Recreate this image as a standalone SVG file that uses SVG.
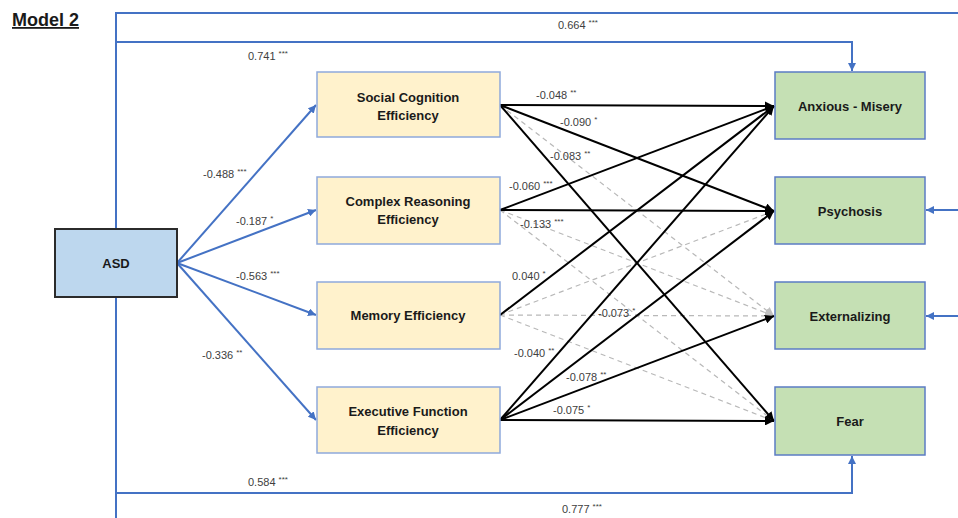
<svg xmlns="http://www.w3.org/2000/svg" width="958" height="518" viewBox="0 0 958 518">
<style>
.lbl{font-family:"Liberation Sans",Arial,sans-serif;font-size:13px;font-weight:bold;fill:#1a1a1a;text-anchor:middle}
.num{font-family:"Liberation Sans",Arial,sans-serif;font-size:11px;fill:#404040}
.st{font-size:8px}
.blue{stroke:#4472c4;stroke-width:2;fill:none}
.blk{stroke:#000;stroke-width:2;fill:none}
.dash{stroke:#b8b8b8;stroke-width:1.2;fill:none;stroke-dasharray:5 4}
.med{fill:#fff2cc;stroke:#8ea9db;stroke-width:1.5}
.out{fill:#c5e0b4;stroke:#5b7cc4;stroke-width:1.5}
</style>
<defs>
<marker id="ab" markerUnits="userSpaceOnUse" markerWidth="9" markerHeight="8" refX="8" refY="4" orient="auto"><path d="M0,0 L8,4 L0,8 z" fill="#4472c4"/></marker>
<marker id="ak" markerUnits="userSpaceOnUse" markerWidth="10" markerHeight="9" refX="9" refY="4.5" orient="auto"><path d="M0,0 L9,4.5 L0,9 z" fill="#000"/></marker>
<marker id="ag" markerUnits="userSpaceOnUse" markerWidth="10" markerHeight="9" refX="9" refY="4.5" orient="auto"><path d="M0,0 L9,4.5 L0,9 z" fill="#c0c0c0"/></marker>
</defs>
<rect width="958" height="518" fill="#fff"/>
<text x="12" y="26" font-family="Liberation Sans,Arial,sans-serif" font-size="18" font-weight="bold" fill="#1a1a1a" text-decoration="underline">Model 2</text>

<g id="connectors">
<path class="blue" d="M958,13 L116,13 L116,518"/>
<path class="blue" d="M116,42 L852,42 L852,71" marker-end="url(#ab)"/>
<path class="blue" d="M116,493 L852,493 L852,456" marker-end="url(#ab)"/>
<path class="blue" d="M958,210 L926,210" marker-end="url(#ab)"/>
<path class="blue" d="M958,316 L926,316" marker-end="url(#ab)"/>
<path class="blue" d="M177,263 L316,105" marker-end="url(#ab)"/>
<path class="blue" d="M177,263 L316,210" marker-end="url(#ab)"/>
<path class="blue" d="M177,263 L316,315" marker-end="url(#ab)"/>
<path class="blue" d="M177,263 L316,420" marker-end="url(#ab)"/>
<path class="dash" d="M500,105 L774,316" marker-end="url(#ag)"/>
<path class="dash" d="M500,210 L774,316" marker-end="url(#ag)"/>
<path class="dash" d="M500,210 L774,421" marker-end="url(#ag)"/>
<path class="dash" d="M500,315 L774,211" marker-end="url(#ag)"/>
<path class="dash" d="M500,315 L774,316" marker-end="url(#ag)"/>
<path class="dash" d="M500,315 L774,421" marker-end="url(#ag)"/>
<path class="blk" d="M500,105 L774,106" marker-end="url(#ak)"/>
<path class="blk" d="M500,105 L774,211" marker-end="url(#ak)"/>
<path class="blk" d="M500,105 L774,421" marker-end="url(#ak)"/>
<path class="blk" d="M500,210 L774,106" marker-end="url(#ak)"/>
<path class="blk" d="M500,210 L774,211" marker-end="url(#ak)"/>
<path class="blk" d="M500,315 L774,106" marker-end="url(#ak)"/>
<path class="blk" d="M500,420 L774,106" marker-end="url(#ak)"/>
<path class="blk" d="M500,420 L774,211" marker-end="url(#ak)"/>
<path class="blk" d="M500,420 L774,316" marker-end="url(#ak)"/>
<path class="blk" d="M500,420 L774,421" marker-end="url(#ak)"/>
<text class="num" x="558" y="29">0.664 <tspan class="st" dy="-4">***</tspan></text>
<text class="num" x="248" y="60">0.741 <tspan class="st" dy="-4">***</tspan></text>
<text class="num" x="248" y="486">0.584 <tspan class="st" dy="-4">***</tspan></text>
<text class="num" x="562" y="513">0.777 <tspan class="st" dy="-4">***</tspan></text>
<text class="num" x="203" y="178">-0.488 <tspan class="st" dy="-4">***</tspan></text>
<text class="num" x="236" y="225">-0.187 <tspan class="st" dy="-4">*</tspan></text>
<text class="num" x="236" y="280">-0.563 <tspan class="st" dy="-4">***</tspan></text>
<text class="num" x="202" y="359">-0.336 <tspan class="st" dy="-4">**</tspan></text>
<text class="num" x="536" y="99">-0.048 <tspan class="st" dy="-4">**</tspan></text>
<text class="num" x="560" y="126">-0.090 <tspan class="st" dy="-4">*</tspan></text>
<text class="num" x="550" y="160">-0.083 <tspan class="st" dy="-4">**</tspan></text>
<text class="num" x="509" y="190">-0.060 <tspan class="st" dy="-4">***</tspan></text>
<text class="num" x="520" y="228">-0.133 <tspan class="st" dy="-4">***</tspan></text>
<text class="num" x="512" y="280">0.040 <tspan class="st" dy="-4">*</tspan></text>
<text class="num" x="598" y="317">-0.073 <tspan class="st" dy="-4">*</tspan></text>
<text class="num" x="514" y="357">-0.040 <tspan class="st" dy="-4">**</tspan></text>
<text class="num" x="566" y="381">-0.078 <tspan class="st" dy="-4">**</tspan></text>
<text class="num" x="553" y="414">-0.075 <tspan class="st" dy="-4">*</tspan></text>
</g>

<g id="asd">
<rect x="55" y="229" width="122" height="68" fill="#bdd7ee" stroke="#2b2b2b" stroke-width="2"/>
<text class="lbl" x="116" y="268">ASD</text>
</g>
<g id="social">
<rect class="med" x="317" y="72" width="183" height="65"/>
<text class="lbl" x="408" y="102">Social Cognition</text>
<text class="lbl" x="408" y="120">Efficiency</text>
</g>
<g id="complex">
<rect class="med" x="317" y="177" width="183" height="67"/>
<text class="lbl" x="408" y="206">Complex Reasoning</text>
<text class="lbl" x="408" y="224">Efficiency</text>
</g>
<g id="memory">
<rect class="med" x="317" y="282" width="183" height="67"/>
<text class="lbl" x="408" y="320">Memory Efficiency</text>
</g>
<g id="executive">
<rect class="med" x="317" y="387" width="183" height="66"/>
<text class="lbl" x="408" y="416">Executive Function</text>
<text class="lbl" x="408" y="435">Efficiency</text>
</g>
<g id="anxious">
<rect class="out" x="775" y="72" width="150" height="67"/>
<text class="lbl" x="850" y="111">Anxious - Misery</text>
</g>
<g id="psychosis">
<rect class="out" x="775" y="177" width="150" height="67"/>
<text class="lbl" x="850" y="216">Psychosis</text>
</g>
<g id="externalizing">
<rect class="out" x="775" y="282" width="150" height="67"/>
<text class="lbl" x="850" y="321">Externalizing</text>
</g>
<g id="fear">
<rect class="out" x="775" y="387" width="150" height="68"/>
<text class="lbl" x="850" y="426">Fear</text>
</g>
</svg>
